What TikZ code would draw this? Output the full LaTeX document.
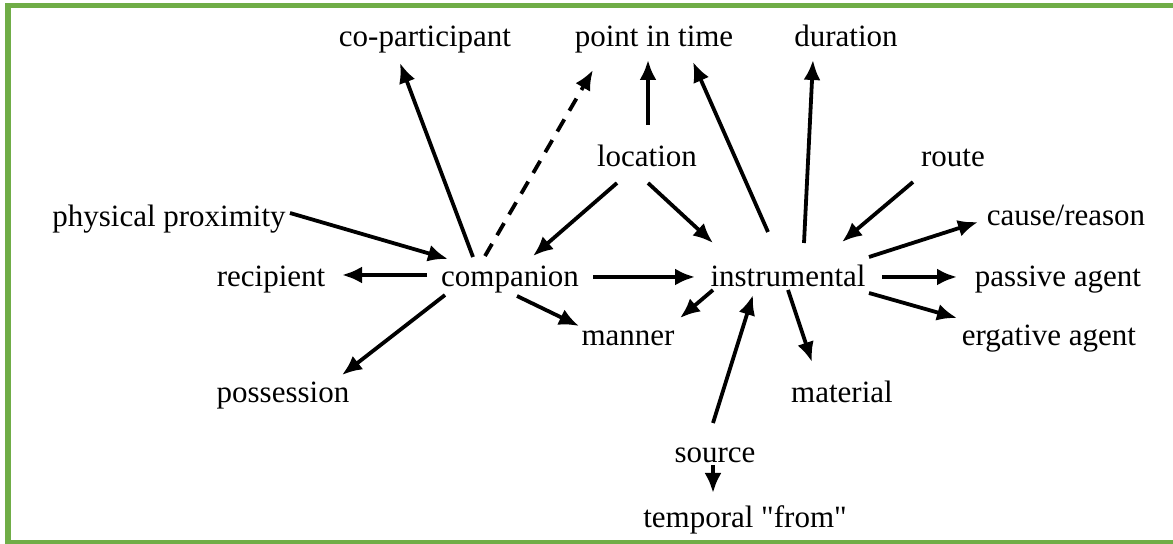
\documentclass[tikz,border=0pt]{standalone}
\usepackage{fontspec}
\setmainfont{Liberation Serif}
\usetikzlibrary{arrows.meta}
\definecolor{framegreen}{RGB}{112,173,71}
\begin{document}
\begin{tikzpicture}[x=0.5pt,y=-0.5pt,
  lbl/.style={anchor=base,inner sep=0pt,font=\fontsize{15.5}{18}\selectfont},
  arr/.style={line width=1.9pt,-{Latex[length=10pt,width=8.5pt]}},
  darr/.style={arr,dash pattern=on 7pt off 5pt}]
\useasboundingbox (0,0) rectangle (1173,544);
\begin{scope}
\clip (0,0) rectangle (1173,544);
\draw[framegreen,line width=2.6pt] (8,5.5) rectangle (1185,543);
\end{scope}

% labels, placed on their baselines
\node[lbl] (cop)    at (425,47)  {co-participant};
\node[lbl] (pit)    at (654,47)  {point in time};
\node[lbl] (dur)    at (846,47)  {duration};
\node[lbl] (loc)    at (647,167) {location};
\node[lbl] (route)  at (953,167) {route};
\node[lbl] (phys)   at (169,227) {physical proximity};
\node[lbl] (cause)  at (1066,226) {cause/reason};
\node[lbl] (rec)    at (271,287) {recipient};
\node[lbl] (comp)   at (510,287) {companion};
\node[lbl] (inst)   at (788,287) {instrumental};
\node[lbl] (pass)   at (1058,287) {passive agent};
\node[lbl] (manner) at (628,346) {manner};
\node[lbl] (erg)    at (1049,346) {ergative agent};
\node[lbl] (poss)   at (283,403) {possession};
\node[lbl] (mat)    at (842,403) {material};
\node[lbl] (src)    at (715,463) {source};
\node[lbl] (temp)   at (745,528) {temporal \textquotedbl from\textquotedbl};

% connectors
\draw[arr]  ([shift={(-37,-30)}]comp.base) -- ([shift={(-25,16)}]cop.base);
\draw[darr] ([shift={(-25,-31)}]comp.base) -- ([shift={(-61,23)}]pit.base);
\draw[arr]  ([shift={(1,-42)}]loc.base) -- ([shift={(-6,13)}]pit.base);
\draw[arr]  ([shift={(-20,-55)}]inst.base) -- ([shift={(39,15)}]pit.base);
\draw[arr]  ([shift={(16,-44)}]inst.base) -- ([shift={(-33,13)}]dur.base);
\draw[arr]  ([shift={(-40,15)}]route.base) -- ([shift={(54,-45)}]inst.base);
\draw[arr]  ([shift={(-30,16)}]loc.base) -- ([shift={(23,-31)}]comp.base);
\draw[arr]  ([shift={(1,16)}]loc.base) -- ([shift={(-75,-44)}]inst.base);
\draw[arr]  ([shift={(121,-14)}]phys.base) -- ([shift={(-62,-28)}]comp.base);
\draw[arr]  ([shift={(-83,-12)}]comp.base) -- ([shift={(71,-12)}]rec.base);
\draw[arr]  ([shift={(-65,8)}]comp.base) -- ([shift={(59,-28)}]poss.base);
\draw[arr]  ([shift={(83,-10)}]comp.base) -- ([shift={(-93,-10)}]inst.base);
\draw[arr]  ([shift={(7,9)}]comp.base) -- ([shift={(-49,-20)}]manner.base);
\draw[arr]  ([shift={(-75,3)}]inst.base) -- ([shift={(52,-28)}]manner.base);
\draw[arr]  ([shift={(-2,-40)}]src.base) -- ([shift={(-35,8)}]inst.base);
\draw[arr]  ([shift={(0,3)}]inst.base) -- ([shift={(-30,-41)}]mat.base);
\draw[arr]  ([shift={(81,-30)}]inst.base) -- ([shift={(-88,-4)}]cause.base);
\draw[arr]  ([shift={(94,-10)}]inst.base) -- ([shift={(-101,-10)}]pass.base);
\draw[arr]  ([shift={(81,6)}]inst.base) -- ([shift={(-92,-28)}]erg.base);
\draw[arr]  ([shift={(-2,2)}]src.base) -- ([shift={(-32,-35)}]temp.base);
\end{tikzpicture}
\end{document}
